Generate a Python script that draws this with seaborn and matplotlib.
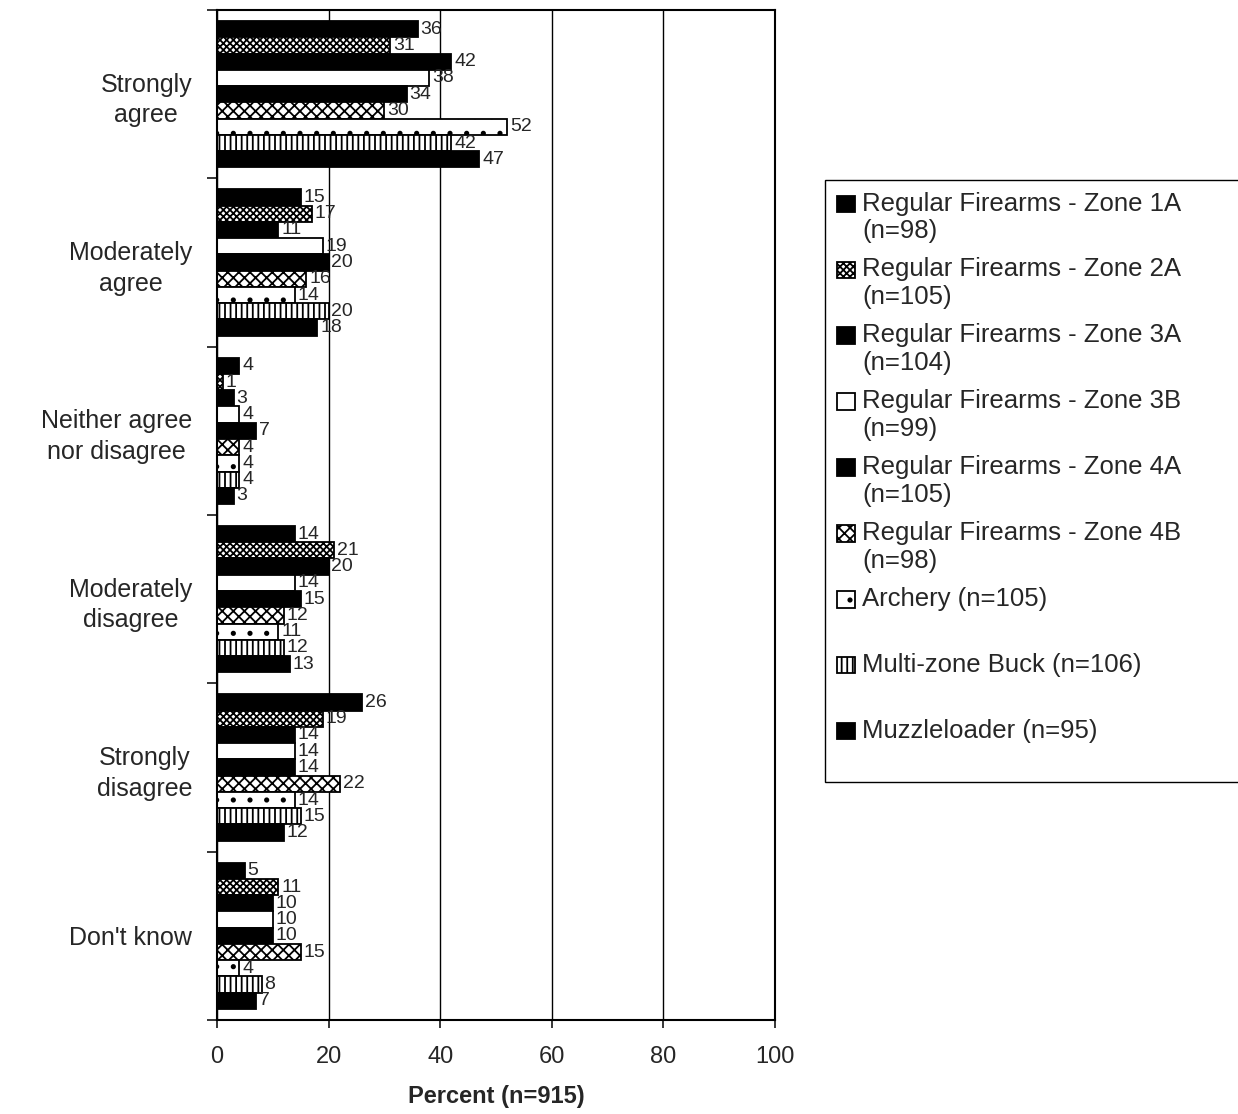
import numpy as np
import pandas as pd
import matplotlib
matplotlib.use('Agg')
import matplotlib.pyplot as plt
import seaborn as sns
from matplotlib.patches import Rectangle
from matplotlib.legend_handler import HandlerPatch

# response categories (top to bottom)
responses = ['Strongly\nagree', 'Moderately\nagree', 'Neither agree\nnor disagree',
             'Moderately\ndisagree', 'Strongly\ndisagree', "Don't know"]

# hunter groups
groups = ['Regular Firearms - Zone 1A (n=98)', 'Regular Firearms - Zone 2A (n=105)',
          'Regular Firearms - Zone 3A (n=104)', 'Regular Firearms - Zone 3B (n=99)',
          'Regular Firearms - Zone 4A (n=105)', 'Regular Firearms - Zone 4B (n=98)',
          'Archery (n=105)', 'Multi-zone Buck (n=106)', 'Muzzleloader (n=95)']
legend_labels = ['Regular Firearms - Zone 1A\n(n=98)', 'Regular Firearms - Zone 2A\n(n=105)',
                 'Regular Firearms - Zone 3A\n(n=104)', 'Regular Firearms - Zone 3B\n(n=99)',
                 'Regular Firearms - Zone 4A\n(n=105)', 'Regular Firearms - Zone 4B\n(n=98)',
                 'Archery (n=105)\n ', 'Multi-zone Buck (n=106)\n ', 'Muzzleloader (n=95)\n ']

# percent values per group, in the order of responses
zone1a = [36, 15, 4, 14, 26, 5]
zone2a = [31, 17, 1, 21, 19, 11]
zone3a = [42, 11, 3, 20, 14, 10]
zone3b = [38, 19, 4, 14, 14, 10]
zone4a = [34, 20, 7, 15, 14, 10]
zone4b = [30, 16, 4, 12, 22, 15]
archery = [52, 14, 4, 11, 14, 4]
multizone = [42, 20, 4, 12, 15, 8]
muzzle = [47, 18, 3, 13, 12, 7]

values = [zone1a, zone2a, zone3a, zone3b, zone4a, zone4b, archery, multizone, muzzle]

# fill styles
facecolors = ['black', 'white', 'black', 'white', 'black', 'white', 'white', 'white', 'black']
hatches = [None, 'xxxxx', None, None, None, 'xxx', '.', '|||', None]

rows = []
for g, vals in zip(groups, values):
    for r, v in zip(responses, vals):
        rows.append({'response': r, 'group': g, 'pct': v})
df = pd.DataFrame(rows)

sns.set_style('ticks')
plt.rcParams['font.family'] = ['Liberation Sans', 'DejaVu Sans']
plt.rcParams['hatch.linewidth'] = 1.3
plt.rcParams['hatch.color'] = 'black'

fig = plt.figure(figsize=(12.38, 11.14), dpi=100)
ax = fig.add_axes([0.1753, 0.0844, 0.4507, 0.9066])

sns.barplot(data=df, x='pct', y='response', hue='group', order=responses,
            hue_order=groups, palette=dict(zip(groups, facecolors)), saturation=1,
            orient='h', width=0.87, edgecolor='black', linewidth=1.3,
            legend=False, errorbar=None, ax=ax)

for cont, fc, h in zip(ax.containers, facecolors, hatches):
    for bar in cont.patches:
        bar.set_facecolor(fc)
        bar.set_edgecolor('black')
        if h:
            bar.set_hatch(h)
    ax.bar_label(cont, padding=2, fontsize=14)

# axes
ax.set_xlim(0, 100)
ax.set_ylim(5.5, -0.5)
ax.set_xticks([0, 20, 40, 60, 80, 100])
ax.tick_params(axis='x', labelsize=17, length=6, width=1.3, direction='out', pad=13)
ax.tick_params(axis='y', which='major', length=0, labelsize=18, pad=18)
ax.set_yticks(np.arange(-0.5, 6, 1), minor=True)
ax.tick_params(axis='y', which='minor', length=7, width=1.3, direction='out')
for lab in ax.get_yticklabels():
    lab.set_multialignment('center')
    lab.set_linespacing(1.35)
ax.set_ylabel('')
ax.set_xlabel('Percent (n=915)', fontsize=17, fontweight='bold', labelpad=12)
ax.xaxis.grid(True, color='black', linewidth=1)
ax.set_axisbelow(True)
for s in ax.spines.values():
    s.set_visible(True)
    s.set_color('black')
    s.set_linewidth(1.5)

# legend with handle at the first text line
def first_line_patch(legend, orig_handle, xdescent, ydescent, width, height, fontsize):
    return Rectangle((-xdescent, -ydescent + 0.55 * fontsize), width, height)

proxies = [Rectangle((0, 0), 1, 1, facecolor=fc, edgecolor='black', linewidth=1.3,
                     hatch=h) for fc, h in zip(facecolors, hatches)]
leg = fig.legend(proxies, legend_labels, loc='upper left',
                 bbox_to_anchor=(825 / 1238, 0.3, 0.35, 1 - 180 / 1114 - 0.3),
                 bbox_transform=fig.transFigure, mode='expand', fontsize=18.5,
                 frameon=True, fancybox=False, edgecolor='black', framealpha=1,
                 borderaxespad=0, borderpad=0.45, handlelength=0.7, handleheight=0.6,
                 handletextpad=0.3, labelspacing=0.55,
                 handler_map={Rectangle: HandlerPatch(patch_func=first_line_patch)})
leg.get_frame().set_linewidth(1)

fig.savefig('out.png', dpi=100)
